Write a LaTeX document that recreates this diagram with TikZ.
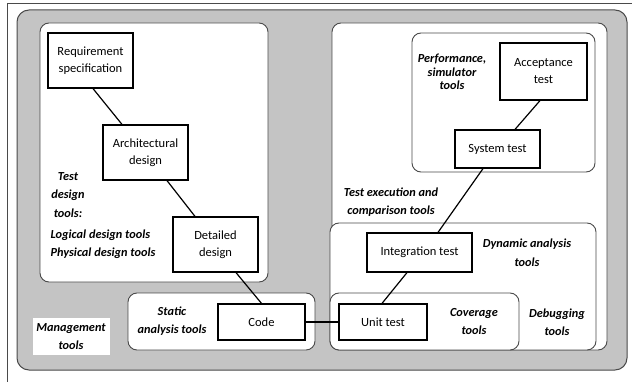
\documentclass[tikz,border=0pt]{standalone}
\usepackage{fontspec}
\setmainfont{Carlito}
\usepackage{tikz}
\usetikzlibrary{calc}
\definecolor{paperGray}{HTML}{C4C4C4}
\definecolor{edgeGray}{HTML}{4A4A4A}

\tikzset{
  stage/.style={draw, line width=1.2pt, fill=white, align=center,
    font=\fontsize{12.5}{17}\selectfont, inner sep=2pt},
  panel/.style={draw=edgeGray, line width=0.9pt, fill=white, rounded corners=9pt},
  toolnote/.style={align=center, font=\fontsize{12.3}{18}\selectfont\bfseries\itshape},
  link/.style={line width=1.2pt}
}

\begin{document}
\begin{tikzpicture}[x=1pt, y=-1pt]
    \useasboundingbox (0,0) rectangle (632,382);
    \fill[white] (0,0) rectangle (632,382);
    \draw[line width=1pt, edgeGray] (7,382) -- (7,4) -- (632,4);
    % grey surround and the white areas
    \draw[draw=edgeGray, line width=1pt, fill=paperGray, rounded corners=12pt] (17,10) rectangle (627,370);
    \draw[panel] (40,23) rectangle (268,282);
    \draw[panel] (332,23) rectangle (607,350);
    \draw[panel] (412,33) rectangle (595,172);
    \draw[panel] (330,223) rectangle (596,350);
    \draw[panel] (330,293) rectangle (519,350);
    \draw[panel] (128,293) rectangle (315,350);
    \fill[white] (33,318) rectangle (110,355);

    % stages of the V
    \node[stage, minimum width=85pt, minimum height=55pt] (req) at (90.5,60.5) {Requirement\\specification};
    \node[stage, minimum width=85pt, minimum height=55pt] (arch) at (145.5,152.5) {Architectural\\design};
    \node[stage, minimum width=85pt, minimum height=55pt] (det) at (215.5,244.5) {Detailed\\design};
    \node[stage, minimum width=87pt, minimum height=36pt] (code) at (261.5,322) {Code};
    \node[stage, minimum width=88pt, minimum height=36pt] (unit) at (383,322) {Unit test};
    \node[stage, minimum width=105pt, minimum height=39pt] (integ) at (419.5,252.5) {Integration test};
    \node[stage, minimum width=85pt, minimum height=38pt] (sys) at (497.5,149) {System test};
    \node[stage, minimum width=87pt, minimum height=57pt] (acc) at (543.5,71.5) {Acceptance\\test};

    \draw[link] ([xshift=2.5pt]req.south) -- ([xshift=-23.5pt]arch.north);
    \draw[link] ([xshift=21.5pt]arch.south) -- ([xshift=-20.5pt]det.north);
    \draw[link] ([xshift=20.5pt]det.south) -- (code.north);
    \draw[link] (code.east) -- (unit.west);
    \draw[link] ([xshift=-1pt]unit.north) -- ([xshift=-12.5pt]integ.south);
    \draw[link] ([xshift=18.5pt]integ.north) -- ([xshift=-14.5pt]sys.south);
    \draw[link] ([xshift=17.5pt]sys.north) -- ([xshift=-3.5pt]acc.south);

    % tool labels
    \node[toolnote, font=\fontsize{12.3}{18.5}\selectfont\bfseries\itshape] (testdesign) at (68,195) {Test\\design\\tools:};
    \node[toolnote, align=left, anchor=west] (logphys) at (47,244) {Logical design tools\\Physical design tools};
    \node[toolnote] (mgmt) at (71,337) {Management\\tools};
    \node[toolnote] (static) at (172,321) {Static\\analysis tools};
    \node[toolnote, font=\fontsize{12.3}{13.5}\selectfont\bfseries\itshape] (perf) at (452,72) {Performance,\\simulator\\tools};
    \node[toolnote] (exec) at (391,202) {Test execution and\\comparison tools};
    \node[toolnote, font=\fontsize{12.3}{19}\selectfont\bfseries\itshape] (dyn) at (527,252.5) {Dynamic analysis\\tools};
    \node[toolnote] (cov) at (474,322) {Coverage\\tools};
    \node[toolnote] (debug) at (557,322) {Debugging\\tools};
\end{tikzpicture}
\end{document}
